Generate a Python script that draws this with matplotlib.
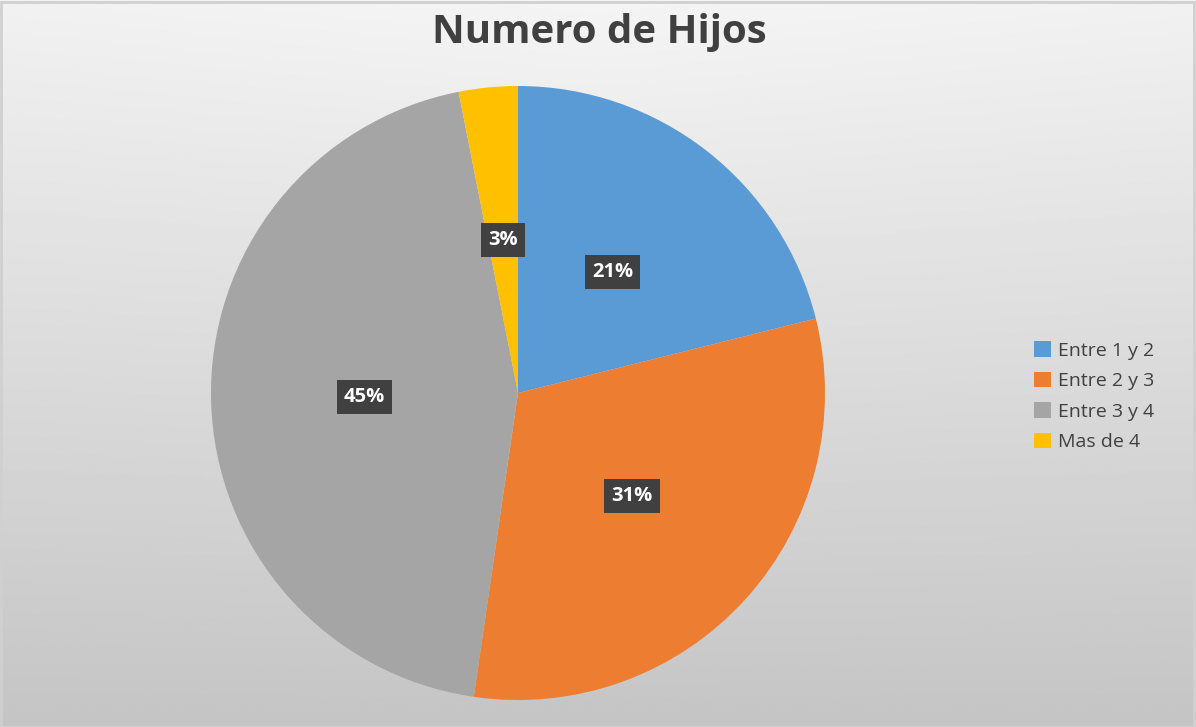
import numpy as np
import matplotlib.pyplot as plt
from matplotlib.patches import Rectangle

categories = ['Entre 1 y 2', 'Entre 2 y 3', 'Entre 3 y 4', 'Mas de 4']
values = [21.1, 31.2, 44.6, 3.1]
colors = ['#5B9BD5', '#ED7D31', '#A5A5A5', '#FFC000']
title = 'Numero de Hijos'

plt.rcParams['font.family'] = ['Open Sans', 'DejaVu Sans']

fig = plt.figure(figsize=(11.96, 7.27), dpi=100)

# gradient background (light at top centre, darker towards bottom)
bg = fig.add_axes([0, 0, 1, 1], zorder=0)
yy, xx = np.mgrid[0:1:300j, 0:1:500j]
shade = 0.96 - 0.19 * yy - 0.03 * np.abs(xx - 0.5) * (1 - yy)
bg.imshow(shade, cmap='gray', vmin=0, vmax=1, aspect='auto',
          extent=[0, 1, 0, 1], origin='upper')
bg.add_patch(Rectangle((0.001, 0.0), 0.997, 0.997, fill=False,
                       edgecolor='#d0d0d0', linewidth=2,
                       transform=bg.transAxes))
bg.axis('off')

ax = fig.add_axes([0.1764, 0.0371, 0.5134, 0.8446], zorder=1)
wedges, texts, autotexts = ax.pie(
    values, colors=colors, startangle=90, counterclock=False,
    autopct=lambda p: f'{p:.0f}%', pctdistance=0.5,
    wedgeprops=dict(linewidth=0))
for t in autotexts:
    t.set_color('white')
    t.set_fontweight('bold')
    t.set_fontsize(14.5)
    t.set_bbox(dict(boxstyle='square,pad=0.35', facecolor='#404040',
                    edgecolor='none'))
ax.set_xlim(-1, 1)
ax.set_ylim(-1, 1)
ax.set_aspect('equal')
ax.axis('off')

fig.text(0.501, 0.955, title, ha='center', va='center',
         fontsize=29, fontweight='bold', color='#404040')

fig.legend(wedges, categories, loc='center left',
           bbox_to_anchor=(0.85, 0.455), frameon=False,
           fontsize=14, labelcolor='#404040', handlelength=0.85,
           handleheight=0.85, handletextpad=0.4, labelspacing=0.62)

fig.savefig('out.png', dpi=100)
